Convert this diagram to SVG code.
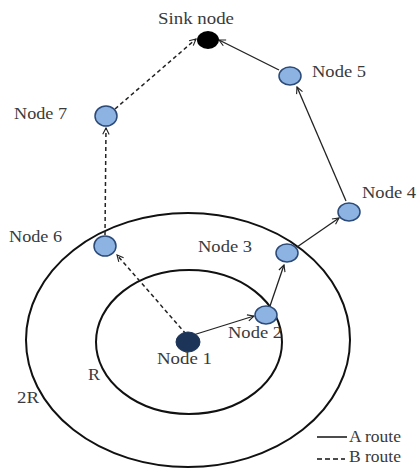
<svg xmlns="http://www.w3.org/2000/svg" width="417" height="468" viewBox="0 0 417 468">
<defs>
<marker id="arr" viewBox="0 0 10 10" refX="9" refY="5" markerWidth="8" markerHeight="8" orient="auto" markerUnits="userSpaceOnUse">
<path d="M1,1 L9,5 L1,9" fill="none" stroke="#222" stroke-width="1.4"/>
</marker>
<style>
text{font-family:"Liberation Serif","DejaVu Serif",serif;font-size:16px;fill:#3a3a3a}
.n{fill:#8db3e2;stroke:#2c4a78;stroke-width:1.5}
.ring{fill:none;stroke:#111;stroke-width:2}
.a{fill:none;stroke:#222;stroke-width:1.3;marker-end:url(#arr)}
.b{fill:none;stroke:#222;stroke-width:1.5;stroke-dasharray:4,3;marker-end:url(#arr)}
</style>
</defs>
<rect width="417" height="468" fill="#fff"/>
<g id="rings">
<ellipse class="ring" cx="189" cy="342" rx="93" ry="72"/>
<ellipse class="ring" cx="188" cy="340" rx="162" ry="127"/>
<text x="88" y="380" textLength="12" lengthAdjust="spacingAndGlyphs">R</text>
<text x="17" y="403" textLength="22" lengthAdjust="spacingAndGlyphs">2R</text>
</g>
<g id="connectors">
<line class="b" x1="186" y1="334" x2="117" y2="255"/>
<line class="b" x1="105" y1="235" x2="106" y2="128"/>
<line class="b" x1="115" y1="109" x2="196" y2="39"/>
<line class="a" x1="190" y1="336" x2="254" y2="316"/>
<line class="a" x1="270" y1="306" x2="284" y2="265"/>
<line class="a" x1="297" y1="247" x2="339" y2="218"/>
<line class="a" x1="346" y1="201" x2="297" y2="87"/>
<line class="a" x1="279" y1="70" x2="219" y2="40"/>
</g>
<g id="sink"><ellipse cx="208" cy="40" rx="11" ry="9" fill="#000"/><text x="158" y="24" textLength="76" lengthAdjust="spacingAndGlyphs">Sink node</text></g>
<g id="node5"><ellipse class="n" cx="290" cy="76" rx="11" ry="9"/><text x="312" y="77" textLength="54" lengthAdjust="spacingAndGlyphs">Node 5</text></g>
<g id="node7"><ellipse class="n" cx="106" cy="116" rx="11" ry="10"/><text x="14" y="119" textLength="53" lengthAdjust="spacingAndGlyphs">Node 7</text></g>
<g id="node4"><ellipse class="n" cx="349" cy="212" rx="11" ry="9"/><text x="362" y="198" textLength="54" lengthAdjust="spacingAndGlyphs">Node 4</text></g>
<g id="node6"><ellipse class="n" cx="105" cy="246" rx="11" ry="10"/><text x="9" y="242" textLength="53" lengthAdjust="spacingAndGlyphs">Node 6</text></g>
<g id="node3"><ellipse class="n" cx="287" cy="253" rx="11" ry="9"/><text x="198" y="252" textLength="54" lengthAdjust="spacingAndGlyphs">Node 3</text></g>
<g id="node2"><text x="228" y="338" textLength="54" lengthAdjust="spacingAndGlyphs">Node 2</text><ellipse class="n" cx="266" cy="315" rx="11" ry="9" fill="#a9c6ec"/></g>
<g id="node1"><ellipse cx="188" cy="342" rx="12" ry="10" fill="#1c3458" stroke="#1c3458"/><text x="157" y="364" textLength="55" lengthAdjust="spacingAndGlyphs">Node 1</text></g>
<g id="legend">
<line x1="317" y1="437" x2="347" y2="437" stroke="#111" stroke-width="1.5"/>
<text x="349" y="442" textLength="52" lengthAdjust="spacingAndGlyphs">A route</text>
<line x1="317" y1="459" x2="345" y2="459" stroke="#111" stroke-width="1.5" stroke-dasharray="5,3"/>
<text x="349" y="462" textLength="52" lengthAdjust="spacingAndGlyphs">B route</text>
</g>
</svg>
